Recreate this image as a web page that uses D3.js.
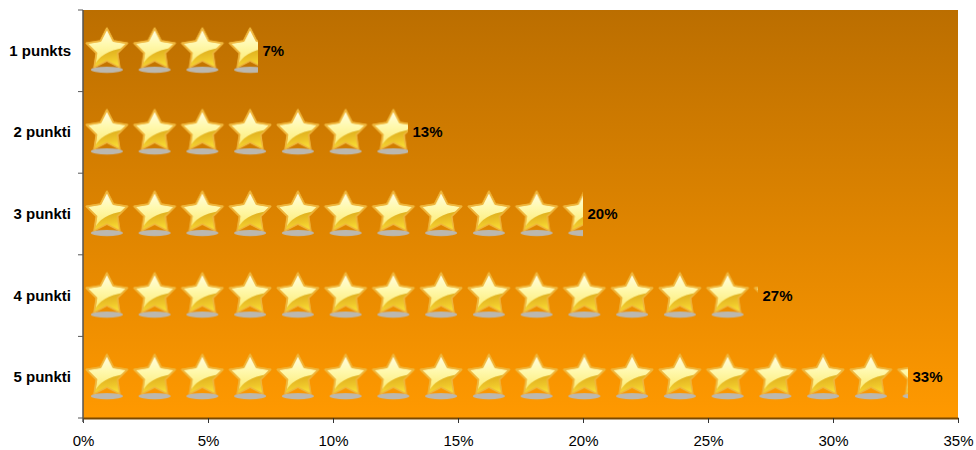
<!DOCTYPE html>
<html>
<head>
<meta charset="utf-8">
<script src="https://cdn.jsdelivr.net/npm/d3@7"></script>
<style>
html, body { margin: 0; padding: 0; background: #fff; }
text { font-family: "Liberation Sans", Arial, sans-serif; fill: #000; }
</style>
</head>
<body>
<div id="chart"></div>
<script>
const categories = ["1 punkts", "2 punkti", "3 punkti", "4 punkti", "5 punkti"];
const shares = [7, 13, 20, 27, 33];
const xTicks = [0, 5, 10, 15, 20, 25, 30, 35];
// each star stands for this many percent
const starUnit = 1.91;

const dimensions = { width: 976, height: 450, left: 83, right: 958, top: 10, bottom: 418 };

const svg = d3.select("#chart").append("svg")
    .attr("width", dimensions.width)
    .attr("height", dimensions.height)
    .style("display", "block");

const x = d3.scaleLinear().domain([0, 35]).range([dimensions.left, dimensions.right]);
const y = d3.scaleBand().domain(categories).range([dimensions.top, dimensions.bottom]);

const defs = svg.append("defs");

function gradient(id, stops, x2, y2) {
    const g = defs.append("linearGradient").attr("id", id)
        .attr("x1", 0).attr("y1", 0).attr("x2", x2).attr("y2", y2);
    stops.forEach(s => g.append("stop").attr("offset", s[0]).attr("stop-color", s[1]));
}
gradient("bg", [[0, "#bb6e00"], [1, "#ff9900"]], 0, 1);
gradient("starTop", [[0, "#fffde8"], [0.4, "#fff9b0"], [1, "#fbe868"]], 0, 1);
gradient("starLow", [[0, "#d6a216"], [0.55, "#eec62a"], [1, "#fff03c"]], 0.25, 1);

// tile of one star, origin on the middle of the row
const tileW = x(starUnit) - x(0);
const bandH = y.bandwidth();
const starCx = tileW / 2;
const starCy = -1;
const outerR = 21.5;
const innerR = 11;
const starPoints = d3.range(10).map(i => {
    const r = i % 2 ? innerR : outerR;
    const a = i * Math.PI / 5 - Math.PI / 2;
    return [starCx + r * Math.cos(a), starCy + r * Math.sin(a)];
});
const starPath = "M" + starPoints.map(p => p.join(",")).join("L") + "Z";

const pattern = defs.append("pattern").attr("id", "star")
    .attr("patternUnits", "userSpaceOnUse")
    .attr("x", 0).attr("y", -bandH / 2)
    .attr("width", tileW).attr("height", bandH);
const tile = pattern.append("g").attr("transform", `translate(0,${bandH / 2})`);

defs.append("clipPath").attr("id", "starClip").append("path").attr("d", starPath);

tile.append("ellipse")
    .attr("cx", starCx).attr("cy", 19)
    .attr("rx", 16).attr("ry", 3.2)
    .attr("fill", "#bbb8b0");
tile.append("path").attr("d", starPath)
    .attr("fill", "url(#starTop)")
    .attr("stroke", "#efb63c").attr("stroke-width", 1.8).attr("stroke-linejoin", "round");
// darker lower half of the star
tile.append("path")
    .attr("clip-path", "url(#starClip)")
    .attr("d", `M${starCx - 12},${starCy + 15} Q${starCx - 6},${starCy + 2} ${starCx + 17},${starCy - 2} L${starCx + 20},${starCy + 24} L${starCx - 20},${starCy + 24} Z`)
    .attr("fill", "url(#starLow)");
// star outline again, over the dark part
tile.append("path").attr("d", starPath)
    .attr("fill", "none")
    .attr("stroke", "#efb63c").attr("stroke-width", 1.2).attr("stroke-linejoin", "round");

// plot background
svg.append("rect")
    .attr("x", x(0)).attr("y", dimensions.top)
    .attr("width", x(35) - x(0)).attr("height", dimensions.bottom - dimensions.top)
    .attr("fill", "url(#bg)");

// star bars
const rows = svg.append("g").selectAll("g")
    .data(categories)
    .join("g")
    .attr("transform", d => `translate(${x(0)},${y(d) + bandH / 2})`);

rows.append("rect")
    .attr("x", 0)
    .attr("y", -bandH / 2)
    .attr("width", (d, i) => x(shares[i]) - x(0))
    .attr("height", bandH)
    .attr("fill", "url(#star)");

rows.append("text")
    .attr("x", (d, i) => x(shares[i]) - x(0) + 4.5)
    .attr("y", 5)
    .attr("font-size", 15)
    .attr("font-weight", "bold")
    .text((d, i) => shares[i] + "%");

// axes
const xAxis = d3.axisBottom(x).tickValues(xTicks).tickFormat(d => d + "%").tickSize(5).tickSizeOuter(0);
const gx = svg.append("g").attr("transform", `translate(0,${dimensions.bottom})`).call(xAxis);
gx.select(".domain").attr("stroke", "#7a4800").attr("stroke-width", 2);
gx.selectAll(".tick line").attr("stroke", "#333");
gx.selectAll(".tick text").attr("font-size", 15).attr("font-family", "Liberation Sans, Arial, sans-serif").attr("y", 17).attr("fill", "#000");

const yEdges = d3.scaleLinear().domain([0, categories.length]).range([dimensions.top, dimensions.bottom]);
const yAxisLine = svg.append("g");
yAxisLine.append("line")
    .attr("x1", x(0)).attr("x2", x(0))
    .attr("y1", dimensions.top).attr("y2", dimensions.bottom + 4)
    .attr("stroke", "#555").attr("stroke-width", 1.5);
yAxisLine.selectAll("line.tick")
    .data(d3.range(categories.length + 1))
    .join("line")
    .attr("class", "tick")
    .attr("x1", x(0) - 5).attr("x2", x(0))
    .attr("y1", d => yEdges(d)).attr("y2", d => yEdges(d))
    .attr("stroke", "#555");

svg.append("g").selectAll("text")
    .data(categories)
    .join("text")
    .attr("x", 71)
    .attr("y", d => y(d) + bandH / 2 + 5)
    .attr("text-anchor", "end")
    .attr("font-size", 15)
    .attr("font-weight", "bold")
    .text(d => d);
</script>
</body>
</html>
